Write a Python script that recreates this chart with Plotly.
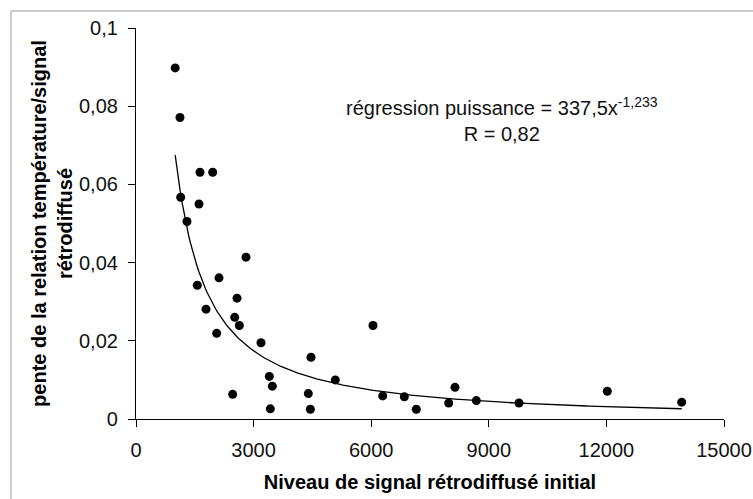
import numpy as np
import plotly.graph_objects as go

# Initial backscattered signal level and slope of the temperature/signal relation
signal = [1000, 1122, 1633, 1956, 1140, 1607, 1301,
          2806, 2117, 1564, 2577, 1786, 2518, 2636, 2058, 3189,
          4464, 3401, 5084, 3478, 2466, 4396, 3427, 4448, 6046,
          6293, 6845, 7151, 7977, 8138, 8682, 9770, 12023, 13921]
pente = [0.0898, 0.0771, 0.0631, 0.0631, 0.0567, 0.0550, 0.0505,
         0.0414, 0.0361, 0.0342, 0.0309, 0.0281, 0.0260, 0.0239, 0.0219, 0.0195,
         0.0158, 0.0109, 0.0100, 0.0084, 0.0063, 0.0065, 0.0026, 0.0025, 0.0239,
         0.0059, 0.0057, 0.0025, 0.0041, 0.0081, 0.0047, 0.0041, 0.0071, 0.0043]

# Power-law fit y = a * x^b
coef_a = 337.5
coef_b = -1.233
coef_r = 0.82

x_ticks = [0, 3000, 6000, 9000, 12000, 15000]
x_ticktext = ["0", "3000", "6000", "9000", "12000", "15000"]
y_ticks = [0, 0.02, 0.04, 0.06, 0.08, 0.1]
y_ticktext = ["0", "0,02", "0,04", "0,06", "0,08", "0,1"]

fit_x = np.linspace(min(signal), max(signal), 300)
fit_y = coef_a * fit_x ** coef_b

FONT = "Liberation Sans, Arial, sans-serif"

def fr(v, nd):
    return f"{v:.{nd}f}".replace(".", ",")

fig = go.Figure()
fig.add_trace(go.Scatter(x=fit_x, y=fit_y, mode="lines",
                         line=dict(color="black", width=1.3),
                         hoverinfo="skip", showlegend=False))
fig.add_trace(go.Scatter(x=signal, y=pente, mode="markers",
                         marker=dict(color="black", size=9),
                         showlegend=False))

fig.add_annotation(
    x=9337, y=0.0765, xref="x", yref="y", showarrow=False,
    text=(f"régression puissance = {fr(coef_a, 1)}x<sup>{fr(coef_b, 3)}</sup>"
          f"<br>R = {fr(coef_r, 2)}"),
    font=dict(family=FONT, size=20, color="#111"), align="center")

# Light frame around the chart area
fig.add_shape(type="line", xref="paper", yref="paper",
              x0=-0.2126, x1=1.1, y0=1.0435, y1=1.0435,
              line=dict(color="#bdbdbd", width=1.5))
fig.add_shape(type="line", xref="paper", yref="paper",
              x0=-0.2126, x1=-0.2126, y0=1.0435, y1=-0.3,
              line=dict(color="#bdbdbd", width=1.5))

axis_common = dict(showline=True, linecolor="black", linewidth=1.2,
                   ticks="outside", ticklen=7, tickcolor="black", tickwidth=1.2,
                   showgrid=False, zeroline=False, ticklabelstandoff=6,
                   automargin=True,
                   tickfont=dict(family=FONT, size=20, color="#111"))

fig.update_xaxes(range=[0, 15000], tickvals=x_ticks, ticktext=x_ticktext,
                 title=dict(text="<b>Niveau de signal rétrodiffusé initial</b>",
                            font=dict(family=FONT, size=20, color="black"),
                            standoff=14),
                 **axis_common)
fig.update_yaxes(range=[0, 0.1], tickvals=y_ticks, ticktext=y_ticktext,
                 title=dict(text="<b>pente de la relation température/signal<br>rétrodiffusé</b>",
                            font=dict(family=FONT, size=20, color="black"),
                            standoff=0),
                 **axis_common)

fig.update_layout(width=753, height=499,
                  margin=dict(l=136, r=29, t=28, b=80, autoexpand=False),
                  plot_bgcolor="white", paper_bgcolor="white",
                  font=dict(family=FONT))

fig.write_html("out.html")
